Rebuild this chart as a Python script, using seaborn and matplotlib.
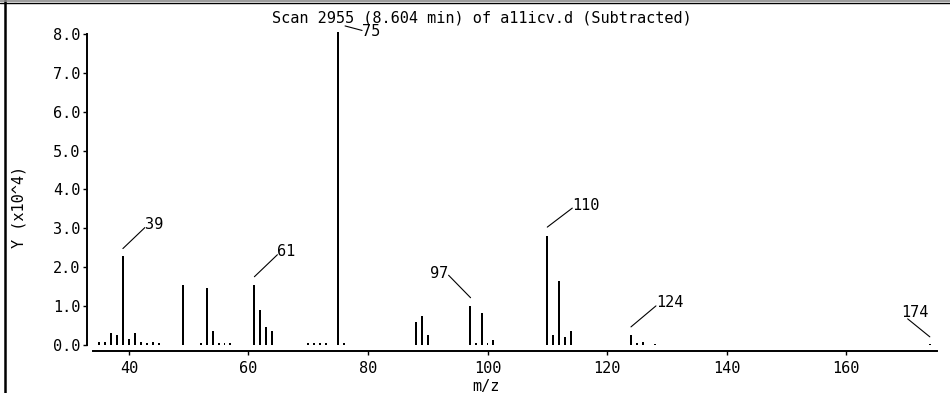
import numpy as np
import matplotlib
matplotlib.use('Agg')
import matplotlib.pyplot as plt
import seaborn as sns
from matplotlib.lines import Line2D
from matplotlib.ticker import FormatStrFormatter
from matplotlib.transforms import ScaledTranslation

# spectrum values (Y in units of 10^4)
mz = [35, 36, 37, 38, 39, 40, 41, 42, 43, 44, 45,
      49, 52, 53, 54, 55, 56, 57,
      61, 62, 63, 64, 70, 71, 72, 73, 75, 76,
      88, 89, 90, 97, 98, 99, 100, 101,
      110, 111, 112, 113, 114, 124, 125, 126, 128, 174]
intensity = [0.08, 0.08, 0.32, 0.26, 2.30, 0.16, 0.32, 0.08, 0.04, 0.08, 0.04,
             1.55, 0.04, 1.46, 0.37, 0.04, 0.04, 0.04,
             1.55, 0.90, 0.46, 0.37, 0.04, 0.06, 0.06, 0.06, 8.05, 0.06,
             0.60, 0.75, 0.26, 1.01, 0.04, 0.82, 0.04, 0.13,
             2.80, 0.26, 1.65, 0.21, 0.37, 0.26, 0.05, 0.08, 0.03, 0.03]

labelled = [39, 61, 75, 97, 110, 124, 174]
x_ticks = [40, 60, 80, 100, 120, 140, 160]
y_ticks = [0, 1, 2, 3, 4, 5, 6, 7, 8]
title = 'Scan 2955 (8.604 min) of a11icv.d (Subtracted)'

sns.set_theme(style='ticks')
plt.rcParams['font.family'] = ['DejaVu Sans Mono']
plt.rcParams['font.size'] = 11
for k in ['text.color', 'axes.labelcolor', 'xtick.color', 'ytick.color']:
    plt.rcParams[k] = 'black'

W, H = 950, 393
fs = 11
fig = plt.figure(figsize=(W / 100, H / 100), dpi=100)
fig.patch.set_facecolor('white')
ax = fig.add_axes([93 / W, (H - 351) / H, 844 / W, 321 / H])
ax.set_facecolor('white')

sns.barplot(x=mz, y=intensity, native_scale=True, width=0.33, color='black',
            saturation=1, errorbar=None, linewidth=0, ax=ax)

ax.set_xlim(34, 175.2)
ax.set_ylim(-0.154, 8.10)
ax.set_xticks(x_ticks)
ax.set_yticks(y_ticks)
ax.yaxis.set_major_formatter(FormatStrFormatter('%.1f'))
ax.tick_params(axis='both', direction='out', length=3, width=1, colors='black',
               labelsize=fs, pad=2)
ax.tick_params(axis='x', pad=4)

sns.despine(ax=ax)
ax.spines['left'].set_position(('outward', 4.3))
ax.spines['left'].set_bounds(0, 8)
for s in ['left', 'bottom']:
    ax.spines[s].set_color('black')
    ax.spines[s].set_linewidth(1.4)

ax.set_xlabel('m/z', fontsize=fs)
ax.xaxis.set_label_coords(0.466, -0.088)
ax.set_ylabel('Y (x10^4)', fontsize=fs)
ax.yaxis.set_label_coords(-0.079, 0.45)

fig.text(482 / W, 1 - 18 / H, title, ha='center', va='center', fontsize=fs)

# leader lines: start offset from peak top, text offset from start (pixels)
starts = [(0, 7), (0, 8), (7, 6), (1, 8), (0, 9), (0, 8), (0, 7)]
texts = [(22, 24), (23, 25), (17, -6), (-22, 24), (25, 22), (25, 24), (-29, 24)]
aligns = ['left', 'left', 'left', 'right', 'left', 'left', 'left']
rels = [(0, 0.3), (0, 0.3), (0, 0.6), (1, 0.4), (0, 0.3), (0, 0.3), (0.25, 0.1)]

for m, st, tx, ha, rel in zip(labelled, starts, texts, aligns, rels):
    h = intensity[mz.index(m)]
    tr = ax.transData + ScaledTranslation(st[0] / 100, st[1] / 100, fig.dpi_scale_trans)
    ax.annotate(str(m), xy=(m, h), xycoords=tr, xytext=tx, textcoords='offset pixels',
                ha=ha, va='center', fontsize=fs, annotation_clip=False,
                arrowprops=dict(arrowstyle='-', lw=0.8, color='black', patchA=None,
                                shrinkA=0, shrinkB=0, relpos=rel))

# window frame
fig.add_artist(Line2D([4.5 / W, 4.5 / W], [0, 1], transform=fig.transFigure,
                      color='black', lw=1.8))
fig.add_artist(Line2D([0, 1], [1 - 0.8 / H, 1 - 0.8 / H], transform=fig.transFigure,
                      color='#8a8a8a', lw=1.2))
fig.add_artist(Line2D([0, 1], [1 - 3.3 / H, 1 - 3.3 / H], transform=fig.transFigure,
                      color='black', lw=1.0))

fig.savefig('out.png', dpi=100, facecolor='white')
